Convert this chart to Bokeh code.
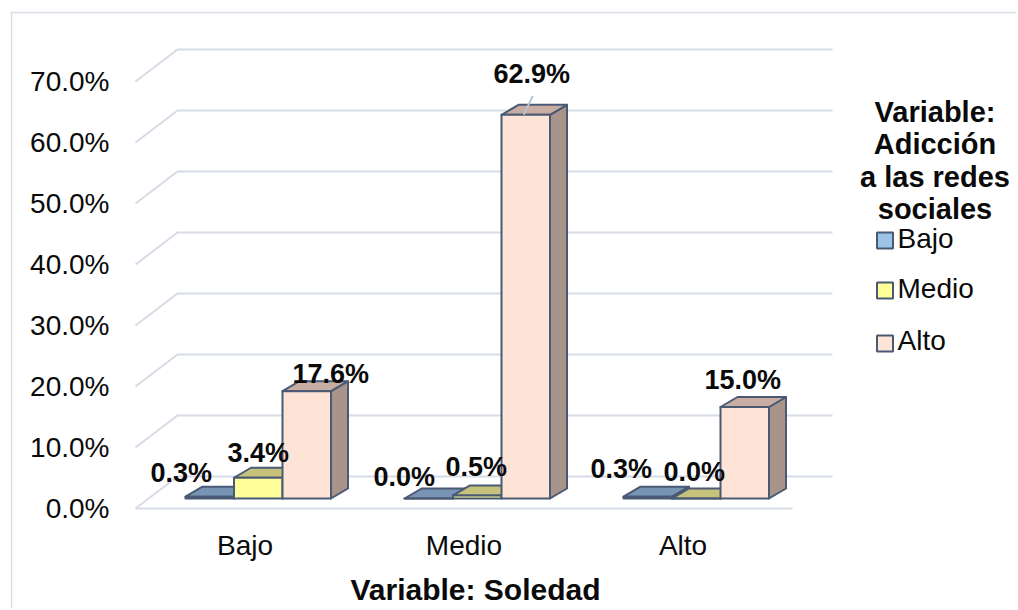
from bokeh.plotting import figure
from bokeh.models import Range1d, ColumnDataSource
from bokeh.embed import file_html
from bokeh.resources import INLINE
from bokeh.core.properties import value

# ---------------- data ----------------
categories = ["Bajo", "Medio", "Alto"]          # Variable: Soledad
series_names = ["Bajo", "Medio", "Alto"]        # Variable: Adicción a las redes sociales
serie_bajo = [0.3, 0.0, 0.3]
serie_medio = [3.4, 0.5, 0.0]
serie_alto = [17.6, 62.9, 15.0]
y_ticks = [0, 10, 20, 30, 40, 50, 60, 70]
y_tick_labels = ["0.0%", "10.0%", "20.0%", "30.0%", "40.0%", "50.0%", "60.0%", "70.0%"]
x_title = "Variable: Soledad"
legend_title = ["Variable:", "Adicción", "a las redes", "sociales"]

# ---------------- style / layout ----------------
W, H = 1016, 608
PAGE = 0
TXT = 10.0                          # baseline correction (px) for text rendering
ORIGIN_X, ORIGIN_Y = 135.0, 508.0   # screen px of front-left floor corner
PX_CAT = 219.0                      # px per category
PX_PCT = 6.1                        # px per percent

def dxp(px):
    return px / PX_CAT

def dyp(px):
    return px / PX_PCT

def sx2d(sx):
    return (sx - ORIGIN_X) / PX_CAT

def sy2d(sy):
    return (ORIGIN_Y - sy) / PX_PCT

FONT = value("Liberation Sans")
front_cols = ["#9DC3E6", "#FFFF99", "#FDE4D6"]
top_cols = ["#7794B5", "#C6C27C", "#C8AEA2"]
side_cols = ["#5F7C9B", "#A8A56A", "#A8948A"]
edge_col = "#4A5A75"
grid_col = "#D6DBE6"

BAR_BASE = dyp(10)
BAR_LEFT0 = dxp(50)
BAR_W = dxp(48.5)
DEPTH_X, DEPTH_Y = dxp(17), dyp(10)
WALL_DX, WALL_DY = dxp(42), dyp(32)
WALL_RIGHT = dxp(697)

# label offsets (px) relative to front-top centre of each bar, per series
label_dx = [[-28.5, -24.5, -26.5], [0, -1, -2], [24, 6, -2]]
label_up = [[14, 12, 18], [15, 18, 17], [7.6, 31, 17.5]]
leader = [(2, 1)]  # (series, category) with leader line

p = figure(width=W, height=H, output_backend="svg", toolbar_location=None,
           x_range=Range1d(sx2d(PAGE), sx2d(PAGE + W)),
           y_range=Range1d(sy2d(PAGE + H), sy2d(PAGE)),
           x_axis_type=None, y_axis_type=None, min_border=0,
           background_fill_color="white", border_fill_color="white")
p.outline_line_color = None
p.xgrid.visible = False
p.ygrid.visible = False

# chart border (top & left visible)
p.line(x=[sx2d(11), sx2d(11), sx2d(1040)], y=[sy2d(640), sy2d(12), sy2d(12)],
       line_color="#D9DEE7", line_width=1.5)

# gridlines (3D walls)
gxs, gys = [], []
for t in y_ticks:
    gxs.append([0, WALL_DX, WALL_RIGHT])
    gys.append([t, t + WALL_DY, t + WALL_DY])
gxs.append([0, len(categories)])
gys.append([0, 0])
p.multi_line(xs=gxs, ys=gys, line_color=grid_col, line_width=2)

# tick labels
p.text(x=[sx2d(109)] * len(y_ticks), y=[t - dyp(9.5 - TXT) for t in y_ticks], text=y_tick_labels,
       text_font=FONT, text_font_size="28px", text_align="right",
       text_baseline="alphabetic", text_color="#0A0A0A")

# bars
all_series = [serie_bajo, serie_medio, serie_alto]
pxs, pys, pcol = [], [], []
for i in range(len(categories)):
    for j, ser in enumerate(all_series):
        v = ser[i]
        x0 = i + BAR_LEFT0 + j * BAR_W
        x1 = x0 + BAR_W
        y0 = BAR_BASE
        y1 = BAR_BASE + v
        pxs.append([x1, x1 + DEPTH_X, x1 + DEPTH_X, x1])
        pys.append([y0, y0 + DEPTH_Y, y1 + DEPTH_Y, y1])
        pcol.append(side_cols[j])
        pxs.append([x0, x1, x1 + DEPTH_X, x0 + DEPTH_X])
        pys.append([y1, y1, y1 + DEPTH_Y, y1 + DEPTH_Y])
        pcol.append(top_cols[j])
        pxs.append([x0, x1, x1, x0])
        pys.append([y0, y0, y1, y1])
        pcol.append(front_cols[j])
src = ColumnDataSource(dict(xs=pxs, ys=pys, c=pcol))
p.patches(xs="xs", ys="ys", fill_color="c", line_color=edge_col, line_width=2,
          line_join="round", source=src)

# data labels
lx, ly, lt = [], [], []
for j, ser in enumerate(all_series):
    for i, v in enumerate(ser):
        cx = i + BAR_LEFT0 + (j + 0.5) * BAR_W
        top = BAR_BASE + v
        lx.append(cx + dxp(label_dx[j][i]))
        ly.append(top + dyp(label_up[j][i] + TXT))
        lt.append(f"{v:.1f}%")
        if (j, i) in leader:
            p.line(x=[cx - dxp(2), cx + dxp(7)], y=[top, top + dyp(19)],
                   line_color="#B8C4D6", line_width=2)
p.text(x=lx, y=ly, text=lt, text_font=FONT, text_font_size="27px",
       text_font_style="bold", text_align="center", text_baseline="alphabetic",
       text_color="#0A0A0A")

# category labels
p.text(x=[i + 0.5 for i in range(len(categories))], y=[sy2d(555 - TXT)] * len(categories),
       text=categories, text_font=FONT, text_font_size="28px", text_align="center",
       text_baseline="alphabetic", text_color="#0A0A0A")

# x title
p.text(x=[sx2d(475)], y=[sy2d(599 - TXT)], text=[x_title], text_font=FONT,
       text_font_size="30px", text_font_style="bold", text_align="center",
       text_baseline="alphabetic", text_color="#0A0A0A")

# legend title
tb = [121, 153, 186, 218]
p.text(x=[sx2d(934.5)] * len(legend_title), y=[sy2d(b - TXT) for b in tb], text=legend_title,
       text_font=FONT, text_font_size="29px", text_font_style="bold",
       text_align="center", text_baseline="alphabetic", text_color="#0A0A0A")

# legend items
sq_y = [240, 290, 343]
txt_y = [248, 298, 350]
p.scatter(x=[sx2d(884.5)] * 3, y=[sy2d(s) for s in sq_y], marker="square", size=16,
          fill_color=front_cols, line_color=edge_col, line_width=2)
p.text(x=[sx2d(897)] * 3, y=[sy2d(t - TXT) for t in txt_y], text=series_names,
       text_font=FONT, text_font_size="28px", text_align="left",
       text_baseline="alphabetic", text_color="#0A0A0A")

open("out.html", "w").write(file_html(p, INLINE))
